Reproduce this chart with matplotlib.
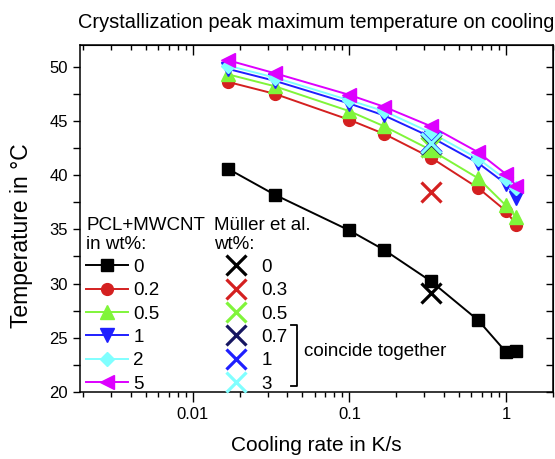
import matplotlib
matplotlib.use("Agg")
import matplotlib.pyplot as plt
from matplotlib.lines import Line2D
from matplotlib.ticker import MultipleLocator, LogLocator, NullFormatter

plt.rcParams['font.family'] = ['Liberation Sans', 'DejaVu Sans']

# cooling rates in K/s
rate = [0.0167, 0.0333, 0.1, 0.167, 0.333, 0.667, 1.0, 1.167]

# peak temperatures (deg C) for PCL+MWCNT, by wt%
wt = ['0', '0.2', '0.5', '1', '2', '5']
T_0 = [40.6, 38.2, 34.9, 33.1, 30.2, 26.6, 23.7, 23.8]
T_02 = [48.6, 47.5, 45.1, 43.8, 41.6, 38.8, 36.7, 35.4]
T_05 = [49.3, 48.2, 45.9, 44.5, 42.3, 39.7, 37.2, 36.1]
T_1 = [49.8, 48.7, 46.6, 45.5, 43.5, 41.1, 39.2, 37.9]
T_2 = [50.1, 49.0, 46.9, 45.9, 43.9, 41.5, 39.6, 38.8]
T_5 = [50.6, 49.4, 47.4, 46.3, 44.5, 42.1, 40.1, 39.0]

# Mueller et al. values at 20 K/min
muller_wt = ['0', '0.3', '0.5', '0.7', '1', '3']
muller_rate = [0.333, 0.333, 0.333, 0.333, 0.333, 0.333]
muller_T = [29.1, 38.4, 42.6, 42.9, 43.1, 43.0]

colors = ['black', '#d42020', '#80f53a', '#1f1fff', '#80ffff', '#dd00ff']
markers = ['s', 'o', '^', 'v', 'D', '<']
msizes = [8, 8.5, 9.5, 9.5, 7.5, 9.5]
muller_colors = ['black', '#d42020', '#80f53a', '#161660', '#1f1fff', '#80ffff']

fig = plt.figure(figsize=(5.55, 4.59), dpi=100)
ax = fig.add_axes([80 / 555, 67 / 459, 473 / 555, 347 / 459])

series = [T_0, T_02, T_05, T_1, T_2, T_5]
handles1 = []
for T, c, m, s, lab in zip(series, colors, markers, msizes, wt):
    ax.plot(rate, T, color=c, lw=1.4, marker=m, ms=s, mec=c, mfc=c, zorder=3)
    handles1.append(Line2D([], [], color=c, lw=1.4, marker=m, ms=s, mec=c, mfc=c, label=lab))

handles2 = []
for x, T, c, lab in zip(muller_rate, muller_T, muller_colors, muller_wt):
    ax.plot([x], [T], ls='none', marker='x', ms=14, mew=2.3, color=c, zorder=4)
    handles2.append(Line2D([], [], ls='none', marker='x', ms=14, mew=2.3, color=c, label=lab))

ax.set_xscale('log')
ax.set_xlim(0.0019, 2.0)
ax.set_ylim(20, 52)
ax.set_xticks([0.01, 0.1, 1])
ax.set_xticklabels(['0.01', '0.1', '1'])
ax.xaxis.set_minor_locator(LogLocator(base=10, subs=range(2, 10)))
ax.xaxis.set_minor_formatter(NullFormatter())
ax.yaxis.set_major_locator(MultipleLocator(5))
ax.yaxis.set_minor_locator(MultipleLocator(2.5))

ax.tick_params(axis='x', which='major', direction='out', length=7, width=1, labelsize=12, pad=4)
ax.tick_params(axis='x', which='minor', direction='out', length=3.5, width=1)
ax.tick_params(axis='y', which='both', direction='out', length=5, width=1, labelsize=12)

# inward ticks on top and right
top = ax.secondary_xaxis('top')
top.set_xticks([0.01, 0.1, 1])
top.xaxis.set_minor_locator(LogLocator(base=10, subs=range(2, 10)))
top.xaxis.set_minor_formatter(NullFormatter())
top.tick_params(axis='x', which='major', direction='in', length=7, width=1, labeltop=False)
top.tick_params(axis='x', which='minor', direction='in', length=3.5, width=1)
right = ax.secondary_yaxis('right')
right.yaxis.set_major_locator(MultipleLocator(5))
right.yaxis.set_minor_locator(MultipleLocator(2.5))
right.tick_params(axis='y', which='both', direction='in', length=5, width=1, labelright=False)

for sp in ax.spines.values():
    sp.set_linewidth(1.1)

ax.set_xlabel('Cooling rate in K/s', fontsize=15, labelpad=10)
ax.set_ylabel('Temperature in °C', fontsize=16.5)
ax.yaxis.set_label_coords(-0.099, 0.45)
ax.set_title('Crystallization peak maximum temperature on cooling', fontsize=14.4, pad=12)

leg1 = ax.legend(handles=handles1, title='PCL+MWCNT\nin wt%:', loc='upper left',
                 bbox_to_anchor=(0.013, 0.505), frameon=False, fontsize=13.5, title_fontsize=13.5,
                 handlelength=2.24, handletextpad=0.27, labelspacing=0.33, borderpad=0,
                 borderaxespad=0, alignment='left')
leg1._legend_box.sep = 4
ax.add_artist(leg1)
leg2 = ax.legend(handles=handles2, title='Müller et al.\nwt%:', loc='upper left',
                 bbox_to_anchor=(0.284, 0.505), frameon=False, fontsize=13.5, title_fontsize=13.5,
                 handlelength=2.3, handletextpad=0.2, labelspacing=0.33, borderpad=0,
                 borderaxespad=0, alignment='left')
leg2._legend_box.sep = 4

# bracket marking the coinciding points
bx, by0, by1 = 0.459, 0.017, 0.193
ax.plot([bx - 0.013, bx, bx, bx - 0.013], [by1, by1, by0, by0], color='black', lw=1.3,
        transform=ax.transAxes, clip_on=False)
ax.text(bx + 0.015, 0.117, 'coincide together', fontsize=13.5, va='center', ha='left',
        transform=ax.transAxes)

fig.savefig('out.png', dpi=100)
